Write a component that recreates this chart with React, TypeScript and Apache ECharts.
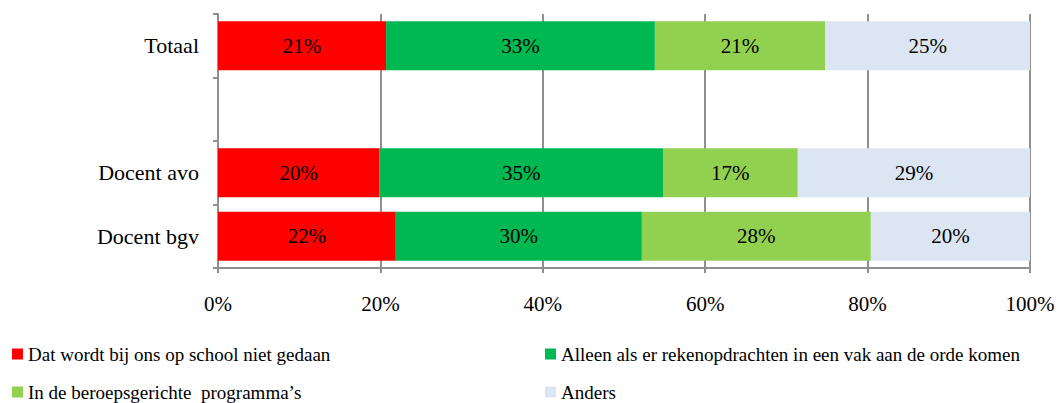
import React, { useEffect, useRef } from "react";
import * as echarts from "echarts";

const categories = ["Totaal", "", "Docent avo", "Docent bgv"];
const seriesNames = [
  "Dat wordt bij ons op school niet gedaan",
  "Alleen als er rekenopdrachten in een vak aan de orde komen",
  "In de beroepsgerichte  programma\u2019s",
  "Anders",
];
const notDone = [20.7, null, 19.9, 21.9];
const onlyInSubject = [33.1, null, 34.9, 30.3];
const vocational = [21.0, null, 16.6, 28.2];
const other = [25.2, null, 28.6, 19.6];
const colors = ["#FF0000", "#00B852", "#92D050", "#DCE6F2"];
const xTicks = [0, 20, 40, 60, 80, 100];

const FONT = "Liberation Serif";

export default function App() {
  const ref = useRef<HTMLDivElement>(null);
  useEffect(() => {
    if (!ref.current) return;
    const chart = echarts.init(ref.current, undefined, { renderer: "svg" });
    const values = [notDone, onlyInSubject, vocational, other];
    const axisColor = "#8f8f8f";
    const legendText = { fontFamily: FONT, fontSize: 19, color: "#000", lineHeight: 20 };
    chart.setOption({
      animation: false,
      textStyle: { fontFamily: FONT, color: "#000" },
      grid: { left: 218, right: 28, top: 14, bottom: 135, containLabel: false },
      xAxis: {
        type: "value",
        min: xTicks[0],
        max: xTicks[xTicks.length - 1],
        interval: 20,
        axisLine: { show: true, lineStyle: { color: axisColor, width: 2 } },
        axisTick: { show: true, length: 5, lineStyle: { color: axisColor, width: 2 } },
        splitLine: { show: true, lineStyle: { color: axisColor, width: 2 } },
        axisLabel: {
          formatter: "{value}%",
          fontFamily: FONT,
          fontSize: 21,
          color: "#000",
          margin: 25,
        },
      },
      yAxis: {
        type: "category",
        inverse: true,
        data: categories,
        axisLine: { show: true, lineStyle: { color: axisColor, width: 2 } },
        axisTick: { show: true, length: 5, alignWithLabel: false, lineStyle: { color: axisColor, width: 2 } },
        axisLabel: { fontFamily: FONT, fontSize: 22, color: "#000", margin: 19 },
      },
      legend: [
        {
          data: [seriesNames[0], seriesNames[2]],
          orient: "vertical",
          left: 12,
          top: 344,
          icon: "rect",
          itemWidth: 11,
          itemHeight: 11,
          itemGap: 18,
          textStyle: legendText,
          padding: 0,
        },
        {
          data: [seriesNames[1], seriesNames[3]],
          orient: "vertical",
          left: 545,
          top: 344,
          icon: "rect",
          itemWidth: 11,
          itemHeight: 11,
          itemGap: 18,
          textStyle: legendText,
          padding: 0,
        },
      ],
      series: seriesNames.map((name, i) => ({
        name,
        type: "bar",
        stack: "total",
        barWidth: 49,
        data: values[i].map((v) => (v === null ? "-" : v)),
        itemStyle: { color: colors[i] },
        label: {
          show: true,
          position: "inside",
          fontFamily: FONT,
          fontSize: 21,
          color: "#000",
          formatter: (p: any) => Math.round(p.value) + "%",
        },
      })),
    });
    return () => chart.dispose();
  }, []);
  return <div ref={ref} style={{ width: 1058, height: 403, position: "absolute", left: 0, top: 0 }} />;
}
